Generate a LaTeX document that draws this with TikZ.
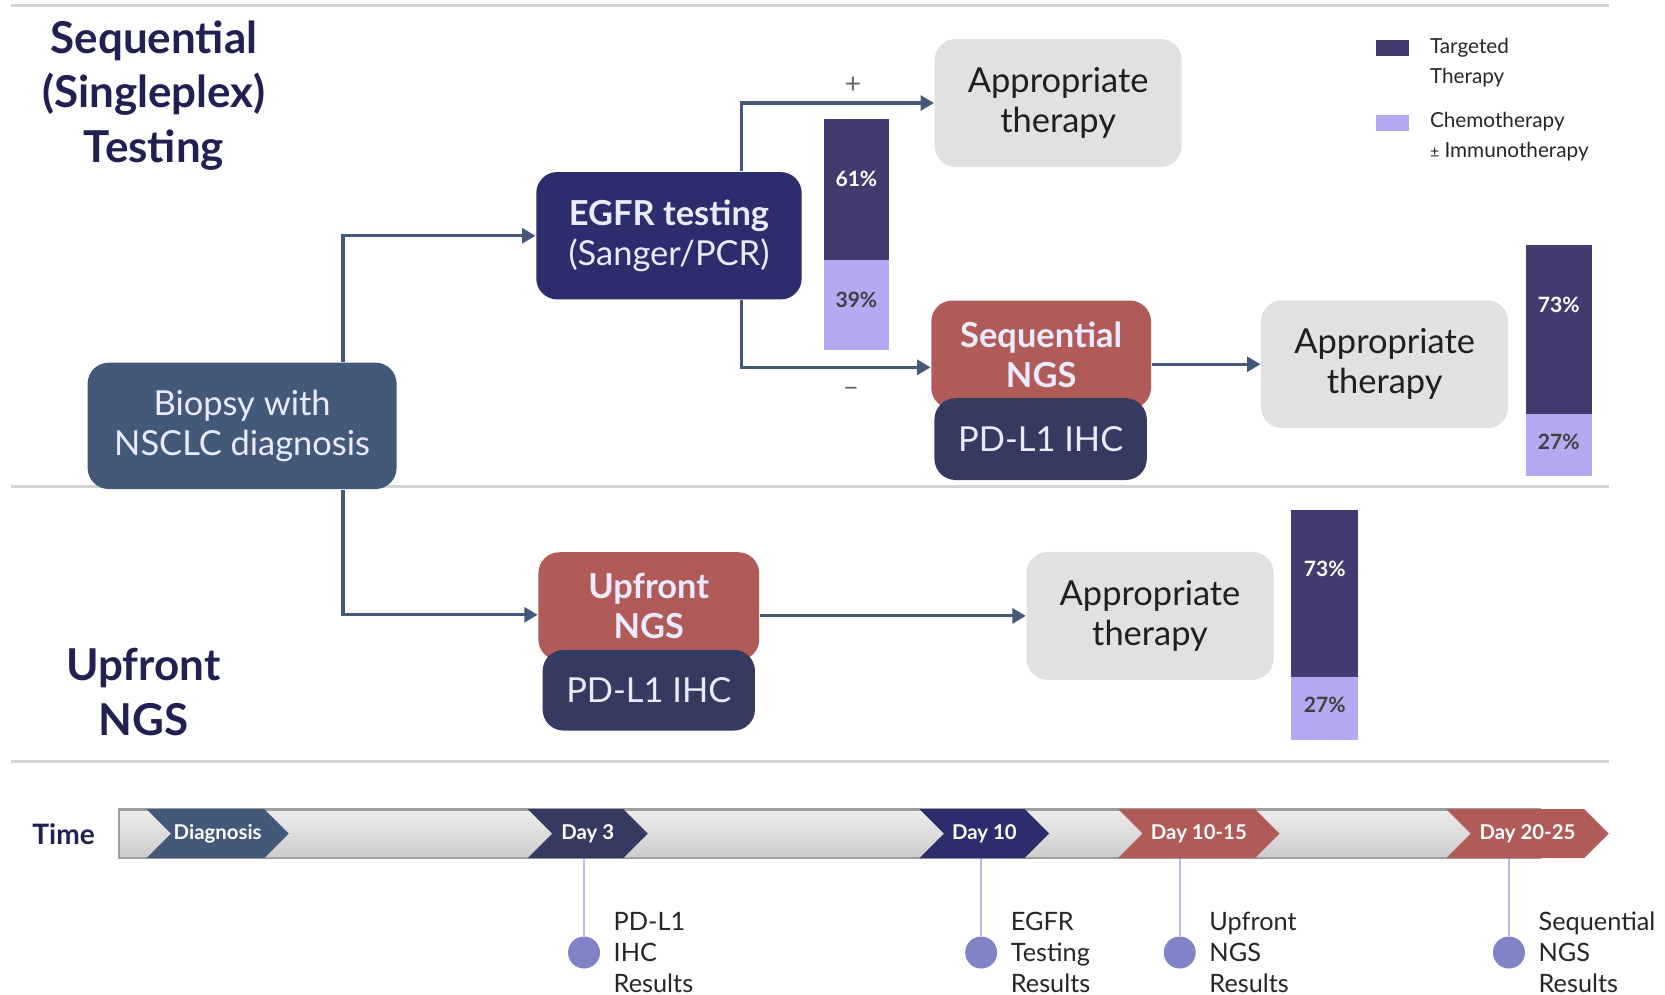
\documentclass[tikz,border=0pt]{standalone}
\usepackage{fontspec}
\setmainfont{Lato}
\usepackage{tikz}
\usetikzlibrary{arrows.meta,positioning,shapes.symbols,calc}
\definecolor{navy}{RGB}{34,31,82}
\definecolor{biop}{RGB}{68,88,122}
\definecolor{egfr}{RGB}{43,45,108}
\definecolor{ngsred}{RGB}{176,91,87}
\definecolor{pdl}{RGB}{53,58,96}
\definecolor{appr}{RGB}{225,225,225}
\definecolor{tgt}{RGB}{69,58,112}
\definecolor{chemo}{RGB}{181,169,242}
\definecolor{dotcol}{RGB}{128,132,198}
\definecolor{stemcol}{RGB}{184,187,232}
\definecolor{rulecol}{RGB}{212,212,212}

\begin{document}
\begin{tikzpicture}[x=0.010619cm,y=-0.010619cm,
  box/.style={rectangle,rounded corners=6pt,fill=#1,text=white!92!blue,align=center,inner sep=2pt,
              font=\fontsize{9.8}{11.4}\selectfont},
  appbox/.style={box=appr,text=black!88,minimum width=2.47cm,minimum height=1.28cm},
  title/.style={font=\bfseries\fontsize{12.5}{15.6}\selectfont,text=navy,align=center},
  arr/.style={-{Triangle[length=3.8pt,width=4.2pt]},line width=0.9pt,draw=biop},
  chev/.style={signal,signal from=west,signal to=east,fill=#1,text=white,minimum height=0.4885cm,
               inner sep=0pt,font=\bfseries\fontsize{5.8}{7}\selectfont},
  dotn/.style={circle,fill=dotcol,minimum size=0.32cm,inner sep=0pt},
  res/.style={anchor=west,inner xsep=3.5pt,align=left,text=black!85,font=\fontsize{7.2}{8.8}\selectfont},
  pct/.style={font=\bfseries\fontsize{6}{7}\selectfont},
  legend/.style={anchor=west,align=left,text=black!85,font=\fontsize{5.9}{8.5}\selectfont},
  sign/.style={text=black!60,font=\fontsize{8}{9}\selectfont}]
\useasboundingbox (0,0) rectangle (1568,937);
% section rules
\draw[rulecol,line width=0.8pt] (10,5) -- (1515,5);
\draw[rulecol,line width=0.8pt] (10,458) -- (1515,458);
\draw[rulecol,line width=0.8pt] (10,717) -- (1515,717);

\node[title] (seqtitle) at (145,90) {Sequential\\(Singleplex)\\Testing};
\node[title] (uptitle) at (135,652) {Upfront\\NGS};

% flow
\node[box=biop,minimum width=3.09cm,minimum height=1.264cm] (biopsy) at (228,401) {Biopsy with\\NSCLC diagnosis};
\node[box=egfr,minimum width=2.655cm,minimum height=1.274cm] (egfr) at (630,222) {\textbf{EGFR testing}\\(Sanger/PCR)};
\node[appbox] (app1) at (996.5,97) {Appropriate\\therapy};
\node[box=ngsred,minimum width=2.198cm,minimum height=1.083cm] (seqngs) at (980.5,334) {\textbf{Sequential}\\\textbf{NGS}};
\node[box=pdl,minimum width=2.124cm,minimum height=0.818cm] (seqpdl) at (980,413.5) {PD-L1 IHC};
\node[appbox] (app2) at (1304,343) {Appropriate\\therapy};
\node[box=ngsred,minimum width=2.209cm,minimum height=1.083cm] (upngs) at (611,571) {\textbf{Upfront}\\\textbf{NGS}};
\node[box=pdl,minimum width=2.124cm,minimum height=0.807cm] (uppdl) at (611,650) {PD-L1 IHC};
\node[appbox] (app3) at (1083,580) {Appropriate\\therapy};

\coordinate (trunk) at (323,401);
\coordinate (fork) at (698,222);
\draw[arr] (trunk |- biopsy.north) |- (egfr.west);
\draw[arr] (trunk |- biopsy.south) |- ([yshift=-2.4pt]upngs.west);
\draw[arr] (fork |- egfr.north) |- (app1.west) node[sign,pos=0.79,above=-1pt] {+};
\draw[arr] (fork |- egfr.south) |- ([yshift=-3.6pt]seqngs.west) node[sign,pos=0.79,below=2pt] {--};
\draw[arr] (seqngs.east |- app2.west) -- (app2.west);
\draw[arr] (upngs.east |- app3.west) -- (app3.west);

% stacked bars
\fill[tgt] (776,112) rectangle (837,245); \fill[chemo] (776,245) rectangle (837,330);
\node[pct,text=white] (p61) at (806.5,168) {61\%};
\node[pct,text=black!75] (p39) at (806.5,282) {39\%};
\fill[tgt] (1437,231) rectangle (1499,390); \fill[chemo] (1437,390) rectangle (1499,448);
\node[pct,text=white] (p73a) at (1468,287) {73\%};
\node[pct,text=black!75] (p27a) at (1468,416) {27\%};
\fill[tgt] (1216,480) rectangle (1279,638); \fill[chemo] (1216,638) rectangle (1279,697);
\node[pct,text=white] (p73b) at (1247.5,536) {73\%};
\node[pct,text=black!75] (p27b) at (1247.5,664) {27\%};

% legend
\fill[tgt] (1296,38) rectangle (1327,53);
\node[legend] (legtgt) at (1335,59) {Targeted\\Therapy};
\fill[chemo] (1296,108) rectangle (1327,123);
\node[legend] (legchemo) at (1335,129) {Chemotherapy\\{\fontsize{4.5}{8.5}\selectfont ±} Immunotherapy};

% timeline
\node[text=navy,font=\bfseries\fontsize{8}{9.6}\selectfont] (time) at (60,786) {Time};
\node[rectangle,top color=gray!14,bottom color=gray!40,draw=gray!75,line width=0.8pt,
      minimum width=14.21cm,minimum height=0.4885cm,inner sep=0pt] (bar) at (781,785) {};
\node[chev=biop,minimum width=1.423cm] (diag) at (205,785) {Diagnosis};
\node[chev=pdl,minimum width=1.2cm] (day3) at (553.5,785) {Day 3};
\node[chev=egfr,minimum width=1.296cm] (day10) at (927,785) {Day 10};
\node[chev=ngsred,minimum width=1.614cm] (day1015) at (1129,785) {Day 10-15};
\node[chev=ngsred,minimum width=1.625cm] (day2025) at (1438.5,785) {Day 20-25};

\node[dotn] (r3) at (550,897) {};
\node[dotn] (r10) at (924,897) {};
\node[dotn] (r1015) at (1111,897) {};
\node[dotn] (r2025) at (1421,897) {};
\draw[stemcol,line width=0.7pt] (r3) -- (r3 |- bar.south); \draw[stemcol,line width=0.7pt] (r10) -- (r10 |- bar.south);
\draw[stemcol,line width=0.7pt] (r1015) -- (r1015 |- bar.south); \draw[stemcol,line width=0.7pt] (r2025) -- (r2025 |- bar.south);
\node[res] (t3) at (r3.east) {PD-L1\\IHC\\Results};
\node[res] (t10) at (r10.east) {EGFR\\Testing\\Results};
\node[res] (t1015) at (r1015.east) {Upfront\\NGS\\Results};
\node[res] (t2025) at (r2025.east) {Sequential\\NGS\\Results};
\end{tikzpicture}
\end{document}
